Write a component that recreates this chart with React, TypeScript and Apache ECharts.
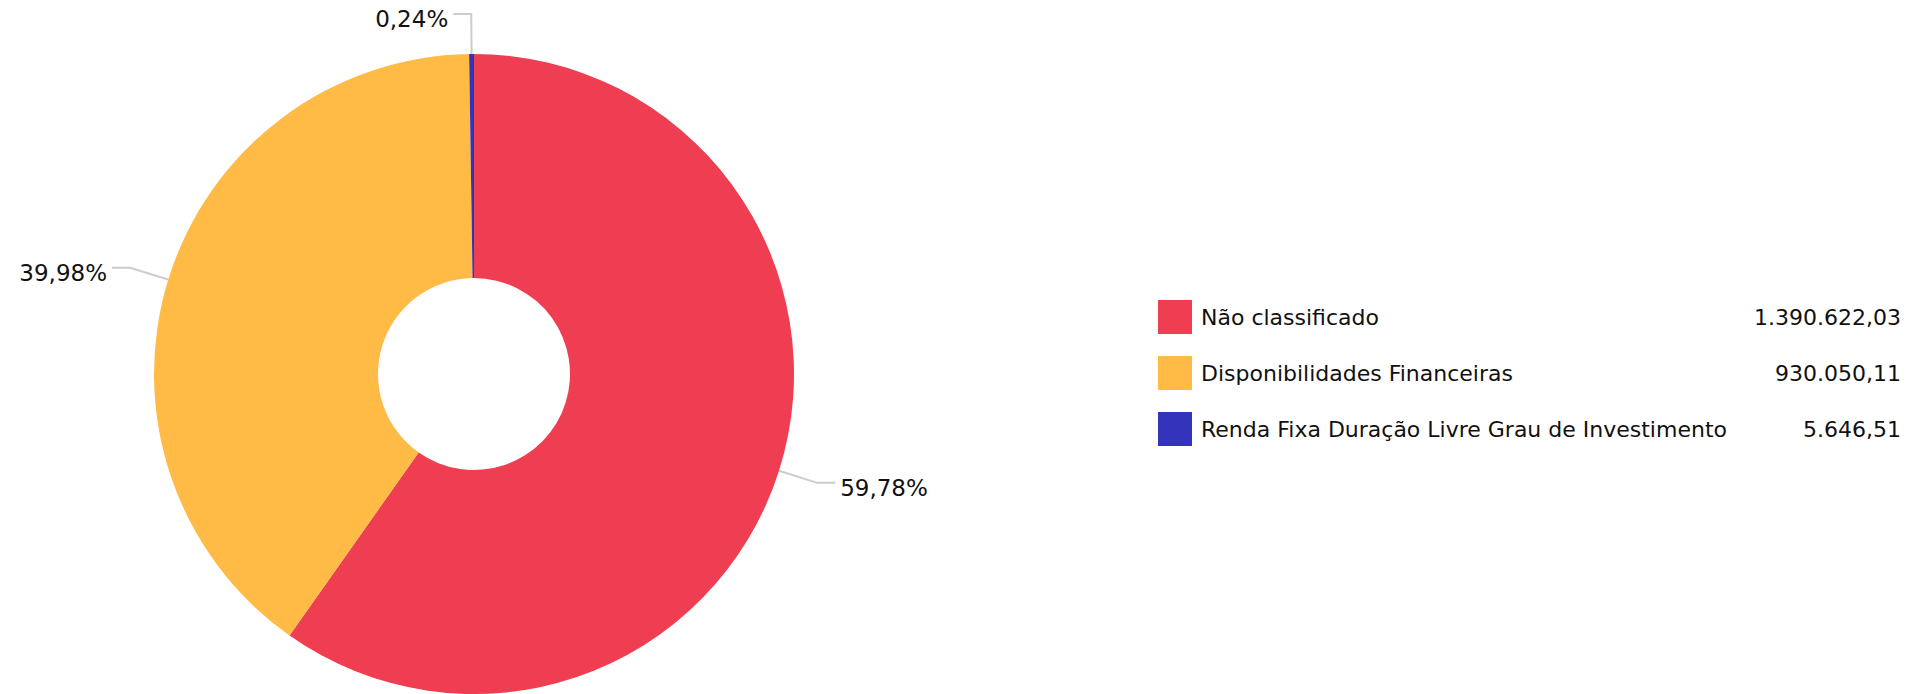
import React, { useEffect, useRef } from "react";
import * as echarts from "echarts";

const categories = [
  "Não classificado",
  "Disponibilidades Financeiras",
  "Renda Fixa Duração Livre Grau de Investimento",
];
const values = [1390622.03, 930050.11, 5646.51];
const colors = ["#EF3D52", "#FFBB45", "#3333BB"];

function fmtBR(v: number): string {
  const [intPart, dec] = v.toFixed(2).split(".");
  const withDots = intPart.replace(/\B(?=(\d{3})+(?!\d))/g, ".");
  return withDots + "," + dec;
}

export default function App() {
  const ref = useRef<HTMLDivElement>(null);
  useEffect(() => {
    if (!ref.current) return;
    const chart = echarts.init(ref.current, undefined, { renderer: "svg" });
    const valueMap: Record<string, number> = {};
    categories.forEach((c, i) => (valueMap[c] = values[i]));
    chart.setOption({
      animation: false,
      backgroundColor: "#ffffff",
      textStyle: { fontFamily: "DejaVu Sans" },
      color: colors,
      legend: {
        orient: "vertical",
        left: 1158,
        top: 300,
        padding: 0,
        itemWidth: 34,
        itemHeight: 34,
        itemGap: 22,
        icon: "rect",
        selectedMode: false,
        data: categories,
        formatter: (name: string) => `{a|${name}}{b|${fmtBR(valueMap[name])}}`,
        textStyle: {
          rich: {
            a: {
              fontFamily: "DejaVu Sans",
              fontSize: 22,
              color: "#111111",
              width: 496,
              padding: [0, 0, 0, 4],
            },
            b: {
              fontFamily: "DejaVu Sans",
              fontSize: 22,
              color: "#111111",
              width: 204,
              align: "right",
            },
          },
        },
      },
      series: [
        {
          type: "pie",
          center: [474, 374],
          radius: [96, 320],
          startAngle: 90,
          clockwise: true,
          avoidLabelOverlap: false,
          silent: true,
          label: {
            show: true,
            position: "outside",
            fontFamily: "DejaVu Sans",
            fontSize: 23,
            color: "#111111",
            formatter: (p: any) =>
              "{p|" + p.percent.toFixed(2).replace(".", ",") + "%}",
            rich: {
              p: {
                fontFamily: "DejaVu Sans",
                fontSize: 23,
                color: "#111111",
                padding: [10, 0, 0, 0],
              },
            },
          },
          labelLine: {
            show: true,
            length: 40,
            length2: 18,
            lineStyle: { color: "#cccccc", width: 2 },
          },
          data: categories.map((c, i) => ({
            name: c,
            value: values[i],
            itemStyle: { color: colors[i] },
          })),
        },
      ],
    });
    return () => chart.dispose();
  }, []);
  return (
    <div
      ref={ref}
      style={{ position: "fixed", left: 0, top: 0, width: 1930, height: 694 }}
    />
  );
}
